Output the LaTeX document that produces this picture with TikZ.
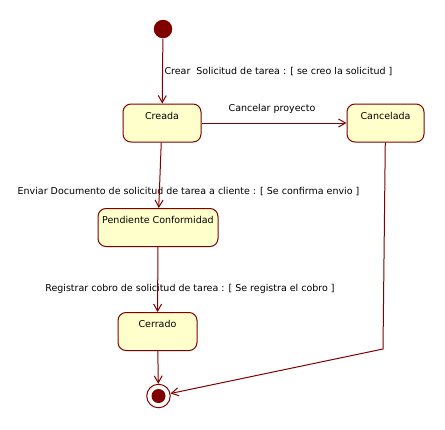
\documentclass[tikz,border=0pt]{standalone}
\usepackage{fontspec}
\setmainfont{DejaVu Sans}
\usetikzlibrary{arrows.meta}
\definecolor{umlred}{HTML}{800000}
\definecolor{umlfill}{HTML}{FFFFCC}
\begin{document}
\begin{tikzpicture}[x=1pt,y=-1pt,line width=1pt,
  every node/.style={font=\fontsize{9.5}{11}\selectfont,inner sep=0},
  state/.style={draw=umlred,fill=umlfill,rounded corners=8pt,minimum width=78pt,inner sep=4pt,text height=11pt,text depth=19pt},
  trans/.style={draw=umlred,-{Straight Barb[length=7pt,width=8pt,line width=1pt]}}]
        \useasboundingbox (0,0) rectangle (445,429);
        \node[fill=umlred,circle,minimum size=18.5pt] (start) at (163,29) {};
        \node[state] (creada) at (162,123) {Creada};
        \node[state,minimum width=77pt] (cancelada) at (385.5,123) {Cancelada};
        \node[state,minimum width=120pt] (pendiente) at (158,227.5) {Pendiente Conformidad};
        \node[state,minimum width=79pt] (cerrado) at (157.5,331.5) {Cerrado};
        \node[draw=umlred,fill=white,circle,minimum size=23.5pt] (fin) at (158.5,396) {};
        \node[fill=umlred,circle,minimum size=14pt] (finpunto) at (fin) {};
        \coordinate (codo) at (383,349);
        \node[anchor=west] (l1) at (164,72) {Crear\ \ Solicitud de tarea : [ se creo la solicitud ]};
        \node (l2) at (272,109) {Cancelar proyecto};
        \node (l3) at (188.5,192) {Enviar Documento de solicitud de tarea a cliente : [ Se confirma envio ]};
        \node (l4) at (190,289) {Registrar cobro de solicitud de tarea : [ Se registra el cobro ]};
        \draw[trans] (start) -- (creada);
        \draw[trans] (creada) -- (cancelada);
        \draw[trans] (creada) -- (pendiente);
        \draw[trans] (pendiente) -- (cerrado);
        \draw[trans] (cerrado) -- (fin);
        \draw[trans] (cancelada) -- (codo) -- (fin);
      \end{tikzpicture}
\end{document}
